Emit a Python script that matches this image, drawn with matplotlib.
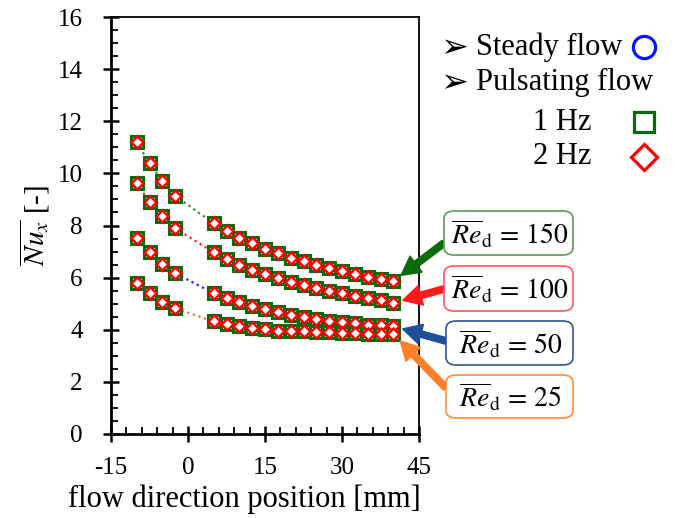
import matplotlib
matplotlib.use("Agg")
import matplotlib.pyplot as plt
from matplotlib.lines import Line2D
from matplotlib.patches import FancyBboxPatch
from matplotlib.ticker import MultipleLocator, FuncFormatter

plt.rcParams['font.family'] = ['Liberation Serif', 'DejaVu Sans']
plt.rcParams['mathtext.fontset'] = 'stix'

# ---- data ----
x_pos = [-10, -7.5, -5, -2.5, 5, 7.5, 10, 12.5, 15, 17.5, 20, 22.5, 25, 27.5,
         30, 32.5, 35, 37.5, 40]
re_labels = ['150', '100', '50', '25']
nu_re150 = [11.19, 10.39, 9.72, 9.14, 8.08, 7.78, 7.52, 7.32, 7.10, 6.95, 6.77,
            6.64, 6.50, 6.37, 6.27, 6.14, 6.04, 5.95, 5.86]
nu_re100 = [9.62, 8.91, 8.35, 7.89, 6.97, 6.72, 6.50, 6.31, 6.14, 5.99, 5.85,
            5.72, 5.61, 5.48, 5.40, 5.31, 5.22, 5.15, 5.03]
nu_re50 = [7.51, 6.97, 6.51, 6.17, 5.40, 5.23, 5.08, 4.92, 4.80, 4.67, 4.58,
           4.50, 4.41, 4.34, 4.29, 4.25, 4.19, 4.18, 4.13]
nu_re25 = [5.79, 5.40, 5.08, 4.82, 4.32, 4.21, 4.13, 4.08, 4.03, 3.97, 3.94,
           3.94, 3.93, 3.90, 3.88, 3.86, 3.84, 3.84, 3.84]
steady = [nu_re150, nu_re100, nu_re50, nu_re25]
puls_1hz = [nu_re150, nu_re100, nu_re50, nu_re25]
puls_2hz = [nu_re150, nu_re100, nu_re50, nu_re25]

line_colors = ['#2e8b2e', '#ff2020', '#1a1aff', '#e8762d']
arrow_colors = ['#0b6b0b', '#ff1a1a', '#1f4e9a', '#ff7f27']
box_colors = ['#5a9a5a', '#ff5a5a', '#2f5597', '#ff8a3a']

W, H = 675, 518
fig = plt.figure(figsize=(W / 100, H / 100), dpi=100)
ax = fig.add_axes([111 / W, 1 - 434 / H, (419 - 111) / W, (434 - 17) / H])


def fp(px, py):
    return (px / W, 1 - py / H)


for i in range(4):
    ax.plot(x_pos, steady[i], ls=':', lw=1.6, color=line_colors[i],
            marker='o', ms=9.5, mfc='white', mec='#1010ff', mew=1.5, zorder=2)
    ax.plot(x_pos, puls_1hz[i], ls='none', marker='s', ms=9, mfc='white',
            mec='#0b6b0b', mew=2.2, zorder=3)
    ax.plot(x_pos, puls_2hz[i], ls='none', marker='D', ms=6.5, mfc='white',
            mec='#ff0000', mew=1.8, zorder=4)

ax.set_xlim(-15, 45)
ax.set_ylim(0, 16)
ax.xaxis.set_major_locator(MultipleLocator(15))
ax.xaxis.set_minor_locator(MultipleLocator(3))
ax.yaxis.set_major_locator(MultipleLocator(2))
ax.yaxis.set_minor_locator(MultipleLocator(0.5))
ax.tick_params(which='major', direction='inout', length=11, width=1.8,
               labelsize=18, top=False, right=False)
ax.tick_params(which='minor', direction='in', length=5, width=1.3,
               top=False, right=False)
ax.tick_params(axis='x', which='major', pad=11)
ax.tick_params(axis='y', which='major', pad=15)
ax.xaxis.set_major_formatter(FuncFormatter(lambda v, p: f"{v:.0f}"))
for s in ['left', 'bottom']:
    ax.spines[s].set_linewidth(2.0)
for s in ['top', 'right']:
    ax.spines[s].set_linewidth(1.3)

ax.set_xlabel('flow direction position [mm]', fontsize=22)
ax.xaxis.set_label_coords((244.5 - 111) / 308, (434 - 484) / 417)
ax.set_ylabel(r'$\overline{Nu_x}$ [-]', fontsize=21, labelpad=4)

# ---- legend (manual) ----
leg_y = [47, 82, 122, 157]
for py, txt in zip(leg_y[:2], ['Steady flow', 'Pulsating flow']):
    fig.text(*fp(440, py + 1), '\u27a2', fontsize=24, family='DejaVu Sans',
             va='center', ha='left')
    fig.text(*fp(476, py), txt, fontsize=22, va='center', ha='left')
fig.text(*fp(533, leg_y[2]), '1 Hz', fontsize=22, va='center', ha='left')
fig.text(*fp(533, leg_y[3]), '2 Hz', fontsize=22, va='center', ha='left')
fig.add_artist(Line2D([fp(644, 47)[0]], [fp(644, 47)[1]], marker='o', ms=16,
                      mfc='white', mec='#0a14ff', mew=2.3, transform=fig.transFigure))
fig.add_artist(Line2D([fp(644, 122)[0]], [fp(644, 122)[1]], marker='s', ms=15,
                      mfc='white', mec='#0b6b0b', mew=2.3, transform=fig.transFigure))
fig.add_artist(Line2D([fp(644, 157)[0]], [fp(644, 157)[1]], marker='D', ms=13,
                      mfc='white', mec='#ff0000', mew=2.3, transform=fig.transFigure))

# ---- Re boxes with arrows ----
box_y = [(211, 255), (266, 311), (321, 365), (375, 418)]
box_x = [(444, 573), (444, 573), (446, 573), (446, 573)]
arrow_start_y = [243, 289, 341, 388]
for i in range(4):
    (x0, x1), (y0, y1) = box_x[i], box_y[i]
    bx, by = fp(x0, y1)
    bw, bh = (x1 - x0) / W, (y1 - y0) / H
    patch = FancyBboxPatch((bx, by), bw, bh,
                           boxstyle='round,pad=0,rounding_size=0.015',
                           transform=fig.transFigure, fc='white',
                           ec=box_colors[i], lw=1.2)
    fig.add_artist(patch)
    fig.text(*fp((x0 + x1) / 2 + 1, (y0 + y1) / 2 + 1),
             r'$\overline{Re}_{\mathrm{d}}\,=\,' + re_labels[i] + '$',
             fontsize=20, ha='center', va='center')
    ax.annotate('', xy=(x_pos[-1], steady[i][-1]), xycoords='data',
                xytext=fp(x0, arrow_start_y[i]), textcoords='figure fraction',
                arrowprops=dict(arrowstyle='simple,head_length=0.75,head_width=0.8,tail_width=0.26',
                                color=arrow_colors[i], mutation_scale=18,
                                shrinkA=0, shrinkB=7),
                annotation_clip=False, zorder=6)

fig.savefig('out.png', dpi=100)
